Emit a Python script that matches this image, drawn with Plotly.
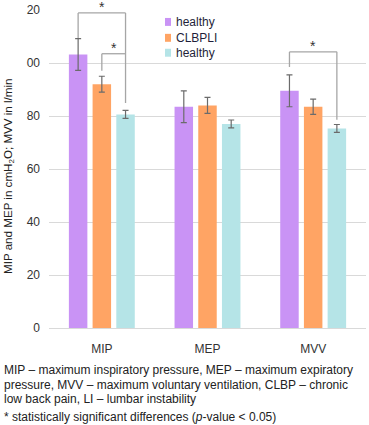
import plotly.graph_objects as go

categories = ["MIP", "MEP", "MVV"]
series_names = ["healthy", "CLBPLI", "healthy"]
healthy_a = [103.2, 83.5, 89.5]
healthy_a_err = [6.0, 6.0, 6.0]
clbpli = [92.0, 84.0, 83.5]
clbpli_err = [3.0, 3.0, 2.9]
healthy_b = [80.6, 77.0, 75.3]
healthy_b_err = [1.5, 1.5, 1.5]
y_tickvals = [0, 20, 40, 60, 80, 100, 120]
y_ticktext = ["0", "20", "40", "60", "80", "00", "20"]

colors = ["#c993f5", "#ffa464", "#b5e4e7"]
values = [healthy_a, clbpli, healthy_b]
errors = [healthy_a_err, clbpli_err, healthy_b_err]

W, H = 369, 425
L, R, T, B = 49, 3, 8, 97
PW, PH = W - L - R, H - T - B
BARGAP = 0.327
SLOT = (1 - BARGAP) / 3

def px(x):
    return (x - L) / PW

def py(y):
    return (H - B - y) / PH

fig = go.Figure()
for name, vals, errs, col in zip(series_names, values, errors, colors):
    fig.add_trace(go.Bar(
        x=categories, y=vals, name=name, marker_color=col, marker_line_width=0,
        error_y=dict(type="data", array=errs, visible=True, color="#6b6b6b",
                     thickness=1.2, width=3),
        showlegend=False,
    ))

# significance brackets: (category index, series i, series j, level, gap i, gap j)
brackets = [(0, 0, 2, 118.9, 0.2, 2.8), (0, 1, 2, 103.5, 2.1, None), (2, 0, 2, 104.2, 3.0, 1.8)]
shapes = []
annotations = []
line = dict(color="#a6a6a6", width=1.3)
for c, i, j, top, gi, gj in brackets:
    xi = c + (i - 1) * SLOT
    xj = c + (j - 1) * SLOT
    yi = values[i][c] + errors[i][c] + gi
    shapes.append(dict(type="line", x0=xi, x1=xi, y0=yi, y1=top, xref="x", yref="y", line=line))
    shapes.append(dict(type="line", x0=xi, x1=xj, y0=top, y1=top, xref="x", yref="y", line=line))
    if gj is not None:
        yj = values[j][c] + errors[j][c] + gj
        shapes.append(dict(type="line", x0=xj, x1=xj, y0=yj, y1=top, xref="x", yref="y", line=line))
    annotations.append(dict(x=(xi + xj) / 2, y=top, xref="x", yref="y", text="*",
                            showarrow=False, yanchor="bottom", yshift=-4,
                            font=dict(size=14, color="#333333")))

# manual legend
legend_rows = [20, 36, 51]
for name, col, yc in zip(series_names, colors, legend_rows):
    shapes.append(dict(type="rect", xref="paper", yref="paper",
                       x0=px(165), x1=px(171), y0=py(yc - 4), y1=py(yc + 4),
                       fillcolor=col, line_width=0))
    annotations.append(dict(x=px(174), y=py(yc), xref="paper", yref="paper", text=name,
                            showarrow=False, xanchor="left", yanchor="middle",
                            font=dict(size=12, color="#1f1f3a")))

# y-axis title
annotations.append(dict(x=px(9), y=py(176), xref="paper", yref="paper",
                        text="MIP and MEP in cmH<sub>2</sub>O; MVV in l/min",
                        textangle=-90, showarrow=False, xanchor="center", yanchor="middle",
                        font=dict(size=11.6, color="#222222")))

# caption
caption = [
    ("MIP – maximum inspiratory pressure, MEP – maximum expiratory", 370),
    ("pressure, MVV – maximum voluntary ventilation, CLBP – chronic", 385),
    ("low back pain, LI – lumbar instability", 399),
    ("* statistically significant differences (<i>p</i>-value &lt; 0.05)", 418),
]
for txt, yc in caption:
    annotations.append(dict(x=px(2), y=py(yc), xref="paper", yref="paper", text=txt,
                            showarrow=False, xanchor="left", yanchor="middle",
                            font=dict(size=12, color="#222222")))

fig.update_layout(
    width=W, height=H,
    margin=dict(l=L, r=R, t=T, b=B, pad=0),
    paper_bgcolor="white", plot_bgcolor="white",
    barmode="group", bargap=BARGAP, bargroupgap=0.22,
    font=dict(family="Liberation Sans, Arial, sans-serif", size=12, color="#333333"),
    shapes=shapes, annotations=annotations,
    xaxis=dict(showgrid=False, showline=False, zeroline=False, ticks="",
               tickfont=dict(size=12, color="#333333"), ticklabelstandoff=12),
    yaxis=dict(range=[0, 120], tickvals=y_tickvals, ticktext=y_ticktext,
               showgrid=True, gridcolor="#d9d9d9", gridwidth=1,
               zeroline=True, zerolinecolor="#d9d9d9", zerolinewidth=1,
               showline=False, ticks="", ticklabelstandoff=8,
               tickfont=dict(size=12, color="#333333")),
)

fig.write_html("out.html", config={"displayModeBar": False},
               post_script="document.body.style.margin='0';document.body.style.overflow='hidden';")
